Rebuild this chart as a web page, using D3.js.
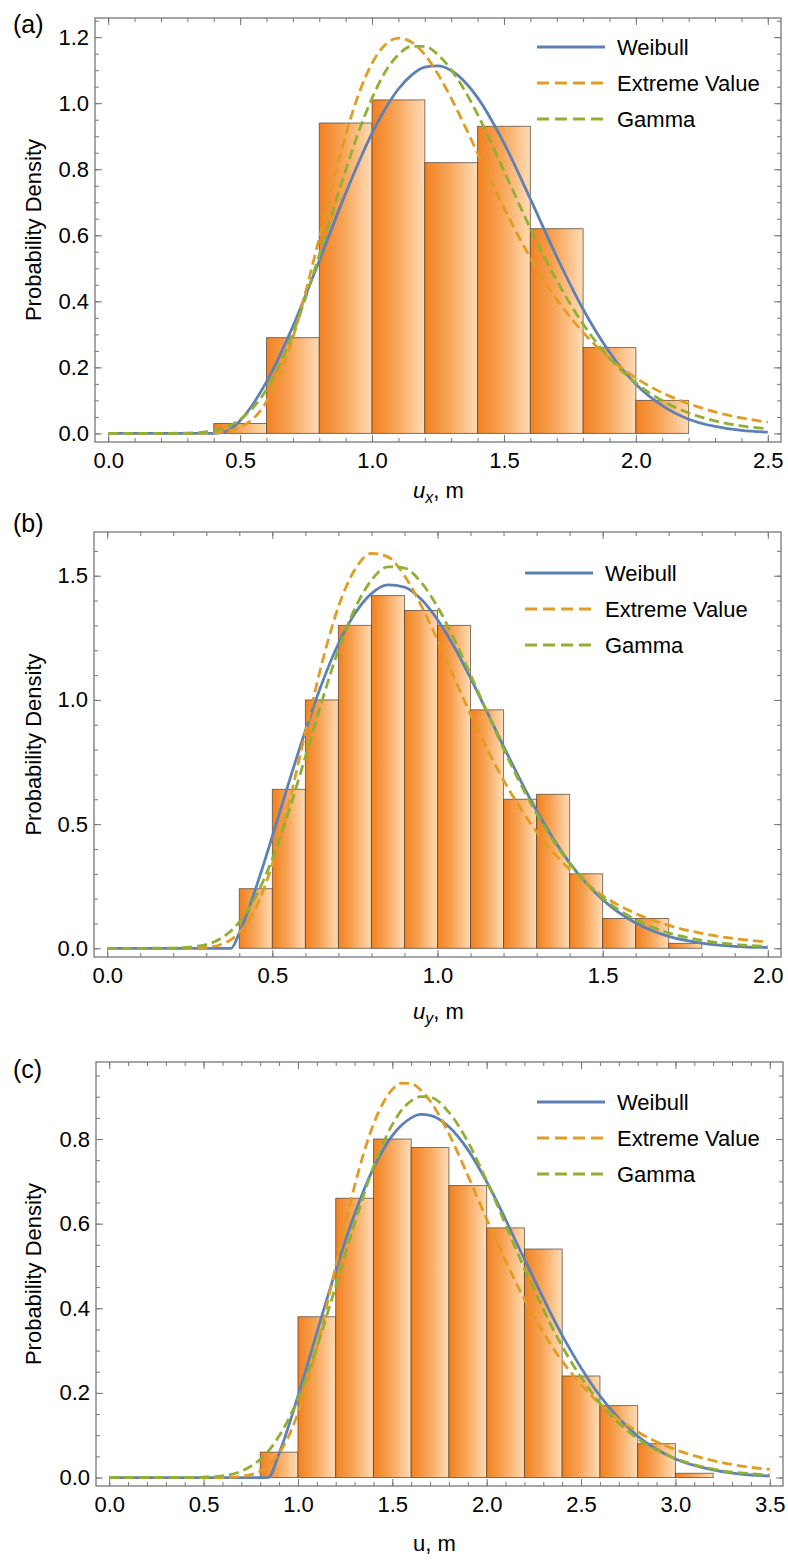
<!DOCTYPE html>
<html>
<head>
<meta charset="utf-8">
<script src="https://cdn.jsdelivr.net/npm/d3@7"></script>
<style>
  body { margin: 0; background: #fff; }
  text { font-family: "Liberation Sans", Arial, sans-serif; }
</style>
</head>
<body>
<svg width="788" height="1560"></svg>
<script>
// ---- panel (a): u_x ----
var edgesA = [0.4, 0.6, 0.8, 1.0, 1.2, 1.4, 1.6, 1.8, 2.0, 2.2];
var densA = [0.03, 0.29, 0.94, 1.01, 0.82, 0.93, 0.62, 0.26, 0.10];
var curveXA = [0, 0.1, 0.2, 0.3, 0.4, 0.45, 0.5, 0.6, 0.7, 0.8, 0.9, 0.95, 1.0, 1.05, 1.1, 1.15, 1.2, 1.25, 1.3, 1.35, 1.4, 1.5, 1.6, 1.7, 1.8, 1.9, 2.0, 2.1, 2.2, 2.3, 2.4, 2.5];
var weibullA = [0, 0, 0, 0, 0, 0.007, 0.039, 0.156, 0.324, 0.523, 0.727, 0.822, 0.909, 0.983, 1.043, 1.085, 1.109, 1.113, 1.099, 1.066, 1.017, 0.879, 0.710, 0.535, 0.376, 0.246, 0.149, 0.084, 0.043, 0.021, 0.009, 0.004];
var extremeA = [0, 0, 0, 0, 0.002, 0.006, 0.018, 0.096, 0.290, 0.591, 0.904, 1.029, 1.121, 1.177, 1.197, 1.185, 1.147, 1.088, 1.015, 0.934, 0.849, 0.683, 0.532, 0.406, 0.306, 0.227, 0.168, 0.123, 0.090, 0.065, 0.047, 0.034];
var gammaA = [0, 0, 0, 0.001, 0.008, 0.020, 0.042, 0.133, 0.303, 0.540, 0.797, 0.915, 1.015, 1.095, 1.147, 1.172, 1.172, 1.147, 1.101, 1.040, 0.966, 0.795, 0.621, 0.463, 0.331, 0.228, 0.153, 0.099, 0.062, 0.038, 0.023, 0.014];
var xTicksA = [0, 0.5, 1.0, 1.5, 2.0, 2.5];
var yTicksA = [0, 0.2, 0.4, 0.6, 0.8, 1.0, 1.2];

// ---- panel (b): u_y ----
var edgesB = [0.4, 0.5, 0.6, 0.7, 0.8, 0.9, 1.0, 1.1, 1.2, 1.3, 1.4, 1.5, 1.6, 1.7, 1.8];
var densB = [0.24, 0.64, 1.00, 1.30, 1.42, 1.36, 1.30, 0.96, 0.60, 0.62, 0.30, 0.12, 0.12, 0.02];
var curveXB = [0, 0.1, 0.2, 0.3, 0.35, 0.375, 0.4, 0.45, 0.5, 0.55, 0.6, 0.65, 0.7, 0.75, 0.8, 0.85, 0.9, 0.95, 1.0, 1.05, 1.1, 1.15, 1.2, 1.3, 1.4, 1.5, 1.6, 1.7, 1.8, 1.9, 2.0];
var weibullB = [0, 0, 0, 0, 0, 0, 0.062, 0.243, 0.451, 0.668, 0.876, 1.066, 1.226, 1.348, 1.428, 1.463, 1.454, 1.406, 1.323, 1.215, 1.088, 0.952, 0.813, 0.554, 0.344, 0.196, 0.102, 0.048, 0.021, 0.008, 0.003];
var extremeB = [0, 0, 0, 0.004, 0.018, 0.035, 0.063, 0.163, 0.339, 0.584, 0.869, 1.147, 1.375, 1.525, 1.590, 1.576, 1.500, 1.382, 1.241, 1.090, 0.942, 0.803, 0.677, 0.469, 0.317, 0.212, 0.140, 0.092, 0.060, 0.039, 0.025];
var gammaB = [0, 0, 0.001, 0.015, 0.045, 0.071, 0.106, 0.210, 0.360, 0.553, 0.771, 0.995, 1.201, 1.368, 1.482, 1.536, 1.531, 1.474, 1.375, 1.246, 1.101, 0.951, 0.803, 0.542, 0.342, 0.203, 0.115, 0.062, 0.032, 0.016, 0.008];
var xTicksB = [0, 0.5, 1.0, 1.5, 2.0];
var yTicksB = [0, 0.5, 1.0, 1.5];

// ---- panel (c): u ----
var edgesC = [0.8, 1.0, 1.2, 1.4, 1.6, 1.8, 2.0, 2.2, 2.4, 2.6, 2.8, 3.0, 3.2];
var densC = [0.06, 0.38, 0.66, 0.80, 0.78, 0.69, 0.59, 0.54, 0.24, 0.17, 0.08, 0.01];
var curveXC = [0, 0.2, 0.4, 0.5, 0.6, 0.7, 0.8, 0.842, 0.9, 1.0, 1.1, 1.2, 1.3, 1.4, 1.5, 1.55, 1.6, 1.65, 1.7, 1.8, 1.9, 2.0, 2.2, 2.4, 2.6, 2.8, 3.0, 3.2, 3.4, 3.5];
var weibullC = [0, 0, 0, 0, 0, 0, 0, 0, 0.057, 0.192, 0.342, 0.489, 0.622, 0.731, 0.808, 0.833, 0.850, 0.858, 0.856, 0.829, 0.775, 0.699, 0.516, 0.336, 0.193, 0.098, 0.044, 0.018, 0.006, 0.004];
var extremeC = [0, 0, 0, 0, 0, 0.003, 0.015, 0.028, 0.057, 0.152, 0.307, 0.499, 0.689, 0.835, 0.917, 0.932, 0.931, 0.916, 0.890, 0.812, 0.714, 0.611, 0.421, 0.275, 0.174, 0.108, 0.066, 0.040, 0.024, 0.019];
var gammaC = [0, 0, 0, 0.001, 0.004, 0.015, 0.043, 0.062, 0.098, 0.186, 0.308, 0.452, 0.600, 0.734, 0.834, 0.869, 0.890, 0.900, 0.899, 0.863, 0.794, 0.701, 0.494, 0.310, 0.176, 0.092, 0.045, 0.020, 0.009, 0.006];
var xTicksC = [0, 0.5, 1.0, 1.5, 2.0, 2.5, 3.0, 3.5];
var yTicksC = [0, 0.2, 0.4, 0.6, 0.8];

var legendNames = ['Weibull', 'Extreme Value', 'Gamma'];
var lineColors = ['#5e81b5', '#e19c24', '#8fb032'];
var lineDash = [null, '10,5', '10,5'];

var svg = d3.select('svg');
var frameColor = '#777';

// orange gradient used by every bar
var grad = svg.append('defs').append('linearGradient')
  .attr('id', 'barGrad')
  .attr('x1', 0).attr('x2', 1).attr('y1', 0).attr('y2', 0);
grad.append('stop').attr('offset', '0%').attr('stop-color', '#f28120');
grad.append('stop').attr('offset', '45%').attr('stop-color', '#f7a456');
grad.append('stop').attr('offset', '100%').attr('stop-color', '#ffdcb6');

function styleAxis(sel) {
  sel.select('.domain').remove();
  sel.selectAll('line').attr('stroke', frameColor).attr('stroke-width', 1);
  sel.selectAll('text')
    .attr('fill', '#000')
    .attr('font-size', 22)
    .attr('font-family', '"Liberation Sans", Arial, sans-serif');
}

function drawPanel(p) {
  var g = svg.append('g');
  var x = d3.scaleLinear().domain(p.xDomain).range([p.left, p.right]);
  var y = d3.scaleLinear().domain(p.yDomain).range([p.bottom, p.top]);

  // histogram bars
  g.append('g').selectAll('rect')
    .data(p.dens)
    .join('rect')
    .attr('x', function(d, i) { return x(p.edges[i]); })
    .attr('width', function(d, i) { return x(p.edges[i + 1]) - x(p.edges[i]); })
    .attr('y', function(d) { return y(d); })
    .attr('height', function(d) { return y(0) - y(d); })
    .attr('fill', 'url(#barGrad)')
    .attr('stroke', '#4f3e30')
    .attr('stroke-opacity', 0.7)
    .attr('stroke-width', 1);

  // fitted curves
  var line = d3.line()
    .x(function(d, i) { return x(p.curveX[i]); })
    .y(function(d) { return y(d); })
    .curve(d3.curveMonotoneX);

  [p.weibull, p.extreme, p.gamma].forEach(function(vals, k) {
    g.append('path')
      .attr('d', line(vals))
      .attr('fill', 'none')
      .attr('stroke', lineColors[k])
      .attr('stroke-width', 2.8)
      .attr('stroke-dasharray', lineDash[k]);
  });

  // frame
  g.append('rect')
    .attr('x', p.left).attr('y', p.top)
    .attr('width', p.right - p.left).attr('height', p.bottom - p.top)
    .attr('fill', 'none')
    .attr('stroke', frameColor)
    .attr('stroke-width', 1.3);

  var fmt = d3.format('.1f');
  var xMinor = d3.range(0, p.xTicks[p.xTicks.length - 1] + 1e-9, p.xMinorStep);
  var yMinor = d3.range(0, p.yDomain[1], p.yMinorStep);

  // bottom axis with labels
  g.append('g').attr('transform', 'translate(0,' + p.bottom + ')')
    .call(d3.axisBottom(x).tickValues(p.xTicks).tickSize(-7).tickPadding(10).tickFormat(fmt))
    .call(styleAxis);
  g.append('g').attr('transform', 'translate(0,' + p.bottom + ')')
    .call(d3.axisBottom(x).tickValues(xMinor).tickSize(-4).tickFormat(''))
    .call(styleAxis);
  // top axis mirrors ticks
  g.append('g').attr('transform', 'translate(0,' + p.top + ')')
    .call(d3.axisTop(x).tickValues(p.xTicks).tickSize(-7).tickFormat(''))
    .call(styleAxis);
  g.append('g').attr('transform', 'translate(0,' + p.top + ')')
    .call(d3.axisTop(x).tickValues(xMinor).tickSize(-4).tickFormat(''))
    .call(styleAxis);
  // left axis with labels
  g.append('g').attr('transform', 'translate(' + p.left + ',0)')
    .call(d3.axisLeft(y).tickValues(p.yTicks).tickSize(-7).tickPadding(6).tickFormat(fmt))
    .call(styleAxis);
  g.append('g').attr('transform', 'translate(' + p.left + ',0)')
    .call(d3.axisLeft(y).tickValues(yMinor).tickSize(-4).tickFormat(''))
    .call(styleAxis);
  // right axis
  g.append('g').attr('transform', 'translate(' + p.right + ',0)')
    .call(d3.axisRight(y).tickValues(p.yTicks).tickSize(-7).tickFormat(''))
    .call(styleAxis);
  g.append('g').attr('transform', 'translate(' + p.right + ',0)')
    .call(d3.axisRight(y).tickValues(yMinor).tickSize(-4).tickFormat(''))
    .call(styleAxis);

  // y title
  g.append('text')
    .attr('transform', 'translate(41,' + ((p.top + p.bottom) / 2) + ') rotate(-90)')
    .attr('text-anchor', 'middle')
    .attr('font-size', 22)
    .text('Probability Density');

  // x title
  var xt = g.append('text')
    .attr('x', 413)
    .attr('y', p.xTitleY)
    .attr('font-size', 22);
  xt.append('tspan').attr('font-style', p.sub ? 'italic' : 'normal').text('u');
  if (p.sub) {
    xt.append('tspan').attr('font-style', 'italic').attr('font-size', 16).attr('dy', 5).text(p.sub);
    xt.append('tspan').attr('dy', -5).text(', m');
  } else {
    xt.append('tspan').text(', m');
  }

  // panel letter
  g.append('text')
    .attr('x', 13)
    .attr('y', p.letterY)
    .attr('font-size', 25)
    .text(p.letter);

  // legend
  legendNames.forEach(function(name, k) {
    var ly = p.legendY + k * 36;
    g.append('line')
      .attr('x1', p.legendX).attr('x2', p.legendX + 68)
      .attr('y1', ly).attr('y2', ly)
      .attr('stroke', lineColors[k])
      .attr('stroke-width', 2.8)
      .attr('stroke-dasharray', lineDash[k] ? '12,6' : null);
    g.append('text')
      .attr('x', p.legendX + 80)
      .attr('y', ly)
      .attr('dy', '0.36em')
      .attr('font-size', 22)
      .text(name);
  });
}

drawPanel({
  left: 95, right: 781, top: 18, bottom: 442,
  xDomain: [-0.05, 2.55], yDomain: [-0.026, 1.258],
  edges: edgesA, dens: densA,
  curveX: curveXA, weibull: weibullA, extreme: extremeA, gamma: gammaA,
  xTicks: xTicksA, yTicks: yTicksA, xMinorStep: 0.1, yMinorStep: 0.05,
  xTitleY: 498, sub: 'x', letter: '(a)', letterY: 33,
  legendX: 537, legendY: 47
});

drawPanel({
  left: 94, right: 781, top: 532, bottom: 957,
  xDomain: [-0.04, 2.04], yDomain: [-0.035, 1.676],
  edges: edgesB, dens: densB,
  curveX: curveXB, weibull: weibullB, extreme: extremeB, gamma: gammaB,
  xTicks: xTicksB, yTicks: yTicksB, xMinorStep: 0.1, yMinorStep: 0.1,
  xTitleY: 1019, sub: 'y', letter: '(b)', letterY: 532,
  legendX: 525, legendY: 573
});

drawPanel({
  left: 96, right: 783, top: 1062, bottom: 1486,
  xDomain: [-0.07, 3.57], yDomain: [-0.02, 0.982],
  edges: edgesC, dens: densC,
  curveX: curveXC, weibull: weibullC, extreme: extremeC, gamma: gammaC,
  xTicks: xTicksC, yTicks: yTicksC, xMinorStep: 0.1, yMinorStep: 0.05,
  xTitleY: 1551, sub: null, letter: '(c)', letterY: 1078,
  legendX: 537, legendY: 1102
});
</script>
</body>
</html>
